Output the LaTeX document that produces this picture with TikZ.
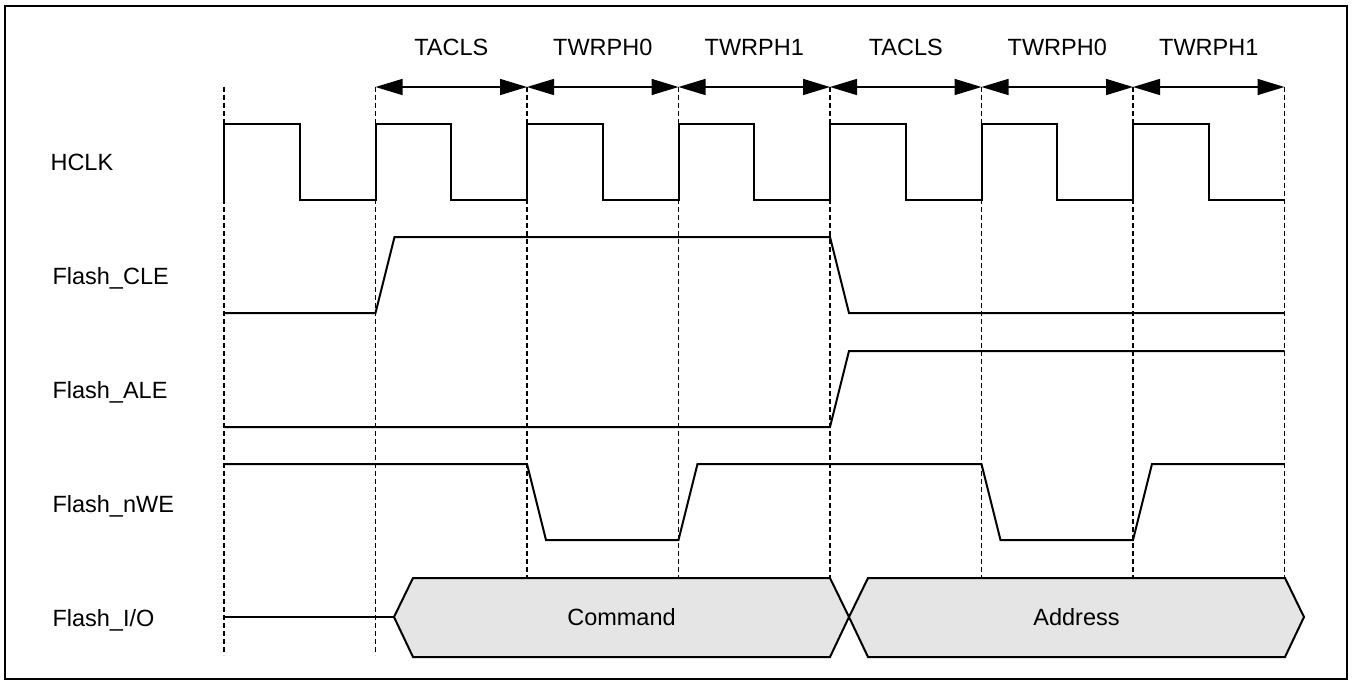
\documentclass[tikz,border=0pt]{standalone}
\usepackage{fontspec}
\setmainfont{Liberation Sans}
\usetikzlibrary{arrows.meta,positioning}

\begin{document}
\begin{tikzpicture}
		[x=1pt,y=-1pt,
		sig/.style={line width=2pt,line join=miter},
		grid line/.style={line width=1.6pt,dash pattern=on 5pt off 3pt},
		span/.style={line width=1.5pt,{Triangle[length=27pt,width=16pt]}-{Triangle[length=27pt,width=16pt]}},
		sig name/.style={anchor=base west,font=\fontsize{23.5}{28}\selectfont},
		phase/.style={anchor=base,font=\fontsize{23.5}{28}\selectfont},
		bus/.style={line width=2pt,line join=miter,fill=gray!20}]
		\useasboundingbox (0,0) rectangle (1353,685);
		\draw[line width=2.5pt] (5,6) rectangle (1347,679);
		
		% cycle boundaries
		\foreach \x [count=\i from 0] in {224,375.5,527,678.5,830,981.5,1133,1284.5} {
			\coordinate (t\i) at (\x,87);
			\draw[grid line] (t\i) -- (\x,655);
		}
		
		% phase widths
		\draw[span] (t1) -- (t2);
		\draw[span] (t2) -- (t3);
		\draw[span] (t3) -- (t4);
		\draw[span] (t4) -- (t5);
		\draw[span] (t5) -- (t6);
		\draw[span] (t6) -- (t7);
		
		\node[phase] (tacls1) at (451.25,56) {TACLS};
		\node[phase] (twrph01) at (602.75,56) {TWRPH0};
		\node[phase] (twrph11) at (754.25,56) {TWRPH1};
		\node[phase] (tacls2) at (905.75,56) {TACLS};
		\node[phase] (twrph02) at (1057.25,56) {TWRPH0};
		\node[phase] (twrph12) at (1208.75,56) {TWRPH1};
		
		% signal names
		\node[sig name] (hclk) at (47,170) {HCLK};
		\node[sig name] (cle) at (49,284) {Flash\_CLE};
		\node[sig name] (ale) at (49,398) {Flash\_ALE};
		\node[sig name] (nwe) at (49,512) {Flash\_nWE};
		\node[sig name] (io) at (49,626) {Flash\_I/O};
		
		% waveforms
		\draw[sig] (224,200) -- (224,124)
		\foreach \i in {1,...,6} { -- ++(75.75,0) -- ++(0,76) -- ++(75.75,0) -- ++(0,-76) }
		-- ++(75.75,0) -- ++(0,76) -- ++(75.75,0);
		
		\draw[sig] (224,313) -- (375.5,313) -- (394.5,237) -- (830,237) -- (849,313) -- (1284.5,313);
		
		\draw[sig] (224,427) -- (830,427) -- (849,351) -- (1284.5,351);
		
		\draw[sig] (224,464) -- (527,464) -- (546,540) -- (678.5,540) -- (697.5,464)
		-- (981.5,464) -- (1000.5,540) -- (1133,540) -- (1152,464) -- (1284.5,464);
		
		\draw[sig] (224,617) -- (394,617);
		\draw[bus] (394,617) -- (413,578) -- (830,578) -- (849,617) -- (830,657) -- (413,657) -- cycle;
		\draw[bus] (849,617) -- (868,578) -- (1285,578) -- (1304,617) -- (1285,657) -- (868,657) -- cycle;
		\node[phase] (cmd) at (621.5,625) {Command};
		\node[phase] (addr) at (1076.5,625) {Address};
		
\end{tikzpicture}
\end{document}
